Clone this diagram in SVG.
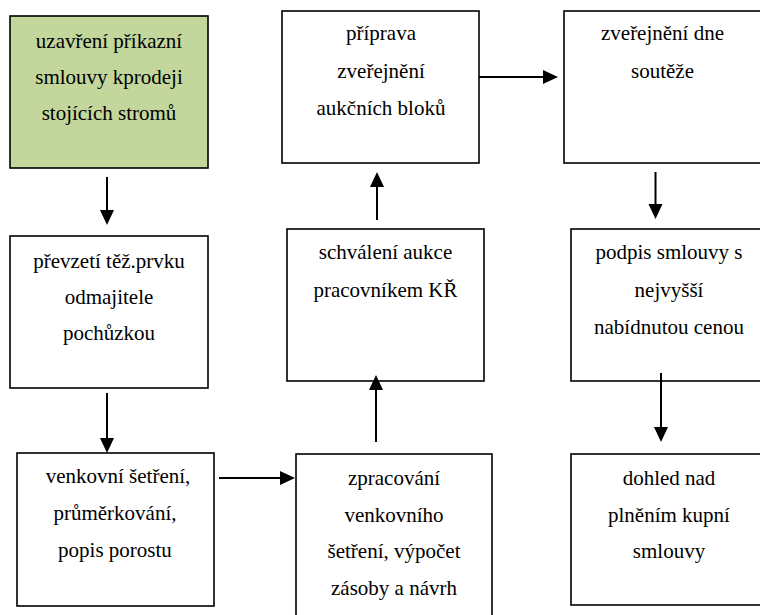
<svg xmlns="http://www.w3.org/2000/svg" width="760" height="615" viewBox="0 0 760 615">
<defs>
<marker id="ah" markerUnits="userSpaceOnUse" markerWidth="15" markerHeight="14" refX="0" refY="7" orient="auto" overflow="visible">
<path d="M0,0 L15,7 L0,14 z" fill="#000"/>
</marker>
</defs>
<rect width="760" height="615" fill="#fff"/>
<g id="n1">
<rect x="10" y="16" width="198" height="152" fill="#c3d69b" stroke="#000" stroke-width="1.6"/>
<text font-family="Liberation Serif" font-size="21" text-anchor="middle" x="109" y="48">uzavření příkazní</text>
<text font-family="Liberation Serif" font-size="21" text-anchor="middle" x="109" y="84">smlouvy kprodeji</text>
<text font-family="Liberation Serif" font-size="21" text-anchor="middle" x="109" y="120">stojících stromů</text>
</g>
<g id="n2">
<rect x="10" y="236" width="198" height="152" fill="#fff" stroke="#000" stroke-width="1.6"/>
<text font-family="Liberation Serif" font-size="21" text-anchor="middle" x="109" y="268">převzetí těž.prvku</text>
<text font-family="Liberation Serif" font-size="21" text-anchor="middle" x="109" y="304">odmajitele</text>
<text font-family="Liberation Serif" font-size="21" text-anchor="middle" x="109" y="340">pochůzkou</text>
</g>
<g id="n3">
<rect x="17" y="453" width="197" height="153" fill="#fff" stroke="#000" stroke-width="1.6"/>
<text font-family="Liberation Serif" font-size="21" text-anchor="middle" x="118" y="483">venkovní šetření,</text>
<text font-family="Liberation Serif" font-size="21" text-anchor="middle" x="115" y="520">průměrkování,</text>
<text font-family="Liberation Serif" font-size="21" text-anchor="middle" x="115" y="557">popis porostu</text>
</g>
<g id="n4">
<rect x="296" y="454" width="196" height="175" fill="#fff" stroke="#000" stroke-width="1.6"/>
<text font-family="Liberation Serif" font-size="21" text-anchor="middle" x="394" y="485">zpracování</text>
<text font-family="Liberation Serif" font-size="21" text-anchor="middle" x="394" y="522">venkovního</text>
<text font-family="Liberation Serif" font-size="21" text-anchor="middle" x="394" y="558">šetření, výpočet</text>
<text font-family="Liberation Serif" font-size="21" text-anchor="middle" x="394" y="595">zásoby a návrh</text>
</g>
<g id="n5">
<rect x="287" y="229" width="197" height="152" fill="#fff" stroke="#000" stroke-width="1.6"/>
<text font-family="Liberation Serif" font-size="21" text-anchor="middle" x="385.5" y="259">schválení aukce</text>
<text font-family="Liberation Serif" font-size="21" text-anchor="middle" x="385.5" y="297">pracovníkem KŘ</text>
</g>
<g id="n6">
<rect x="282" y="11" width="197" height="152" fill="#fff" stroke="#000" stroke-width="1.6"/>
<text font-family="Liberation Serif" font-size="21" text-anchor="middle" x="381" y="40">příprava</text>
<text font-family="Liberation Serif" font-size="21" text-anchor="middle" x="381" y="78">zveřejnění</text>
<text font-family="Liberation Serif" font-size="21" text-anchor="middle" x="381" y="115">aukčních bloků</text>
</g>
<g id="n7">
<rect x="564" y="11" width="198" height="152" fill="#fff" stroke="#000" stroke-width="1.6"/>
<text font-family="Liberation Serif" font-size="21" text-anchor="middle" x="662.5" y="40">zveřejnění dne</text>
<text font-family="Liberation Serif" font-size="21" text-anchor="middle" x="662.5" y="78">soutěže</text>
</g>
<g id="n8">
<rect x="571" y="229" width="196" height="152" fill="#fff" stroke="#000" stroke-width="1.6"/>
<text font-family="Liberation Serif" font-size="21" text-anchor="middle" x="669" y="259">podpis smlouvy s</text>
<text font-family="Liberation Serif" font-size="21" text-anchor="middle" x="669" y="297">nejvyšší</text>
<text font-family="Liberation Serif" font-size="21" text-anchor="middle" x="669" y="334">nabídnutou cenou</text>
</g>
<g id="n9">
<rect x="571" y="454" width="196" height="151" fill="#fff" stroke="#000" stroke-width="1.6"/>
<text font-family="Liberation Serif" font-size="21" text-anchor="middle" x="669" y="485">dohled nad</text>
<text font-family="Liberation Serif" font-size="21" text-anchor="middle" x="669" y="522">plněním kupní</text>
<text font-family="Liberation Serif" font-size="21" text-anchor="middle" x="669" y="558">smlouvy</text>
</g>
<g id="connectors" stroke="#000" stroke-width="2" marker-end="url(#ah)">
<line x1="107" y1="177" x2="107" y2="210"/>
<line x1="107" y1="393" x2="107" y2="438"/>
<line x1="219" y1="478" x2="280" y2="478"/>
<line x1="376" y1="442" x2="376" y2="390"/>
<line x1="377" y1="220" x2="377" y2="187"/>
<line x1="479" y1="77" x2="543" y2="77"/>
<line x1="655.5" y1="172" x2="655.5" y2="204"/>
<line x1="661" y1="373" x2="661" y2="427"/>
</g>
</svg>
